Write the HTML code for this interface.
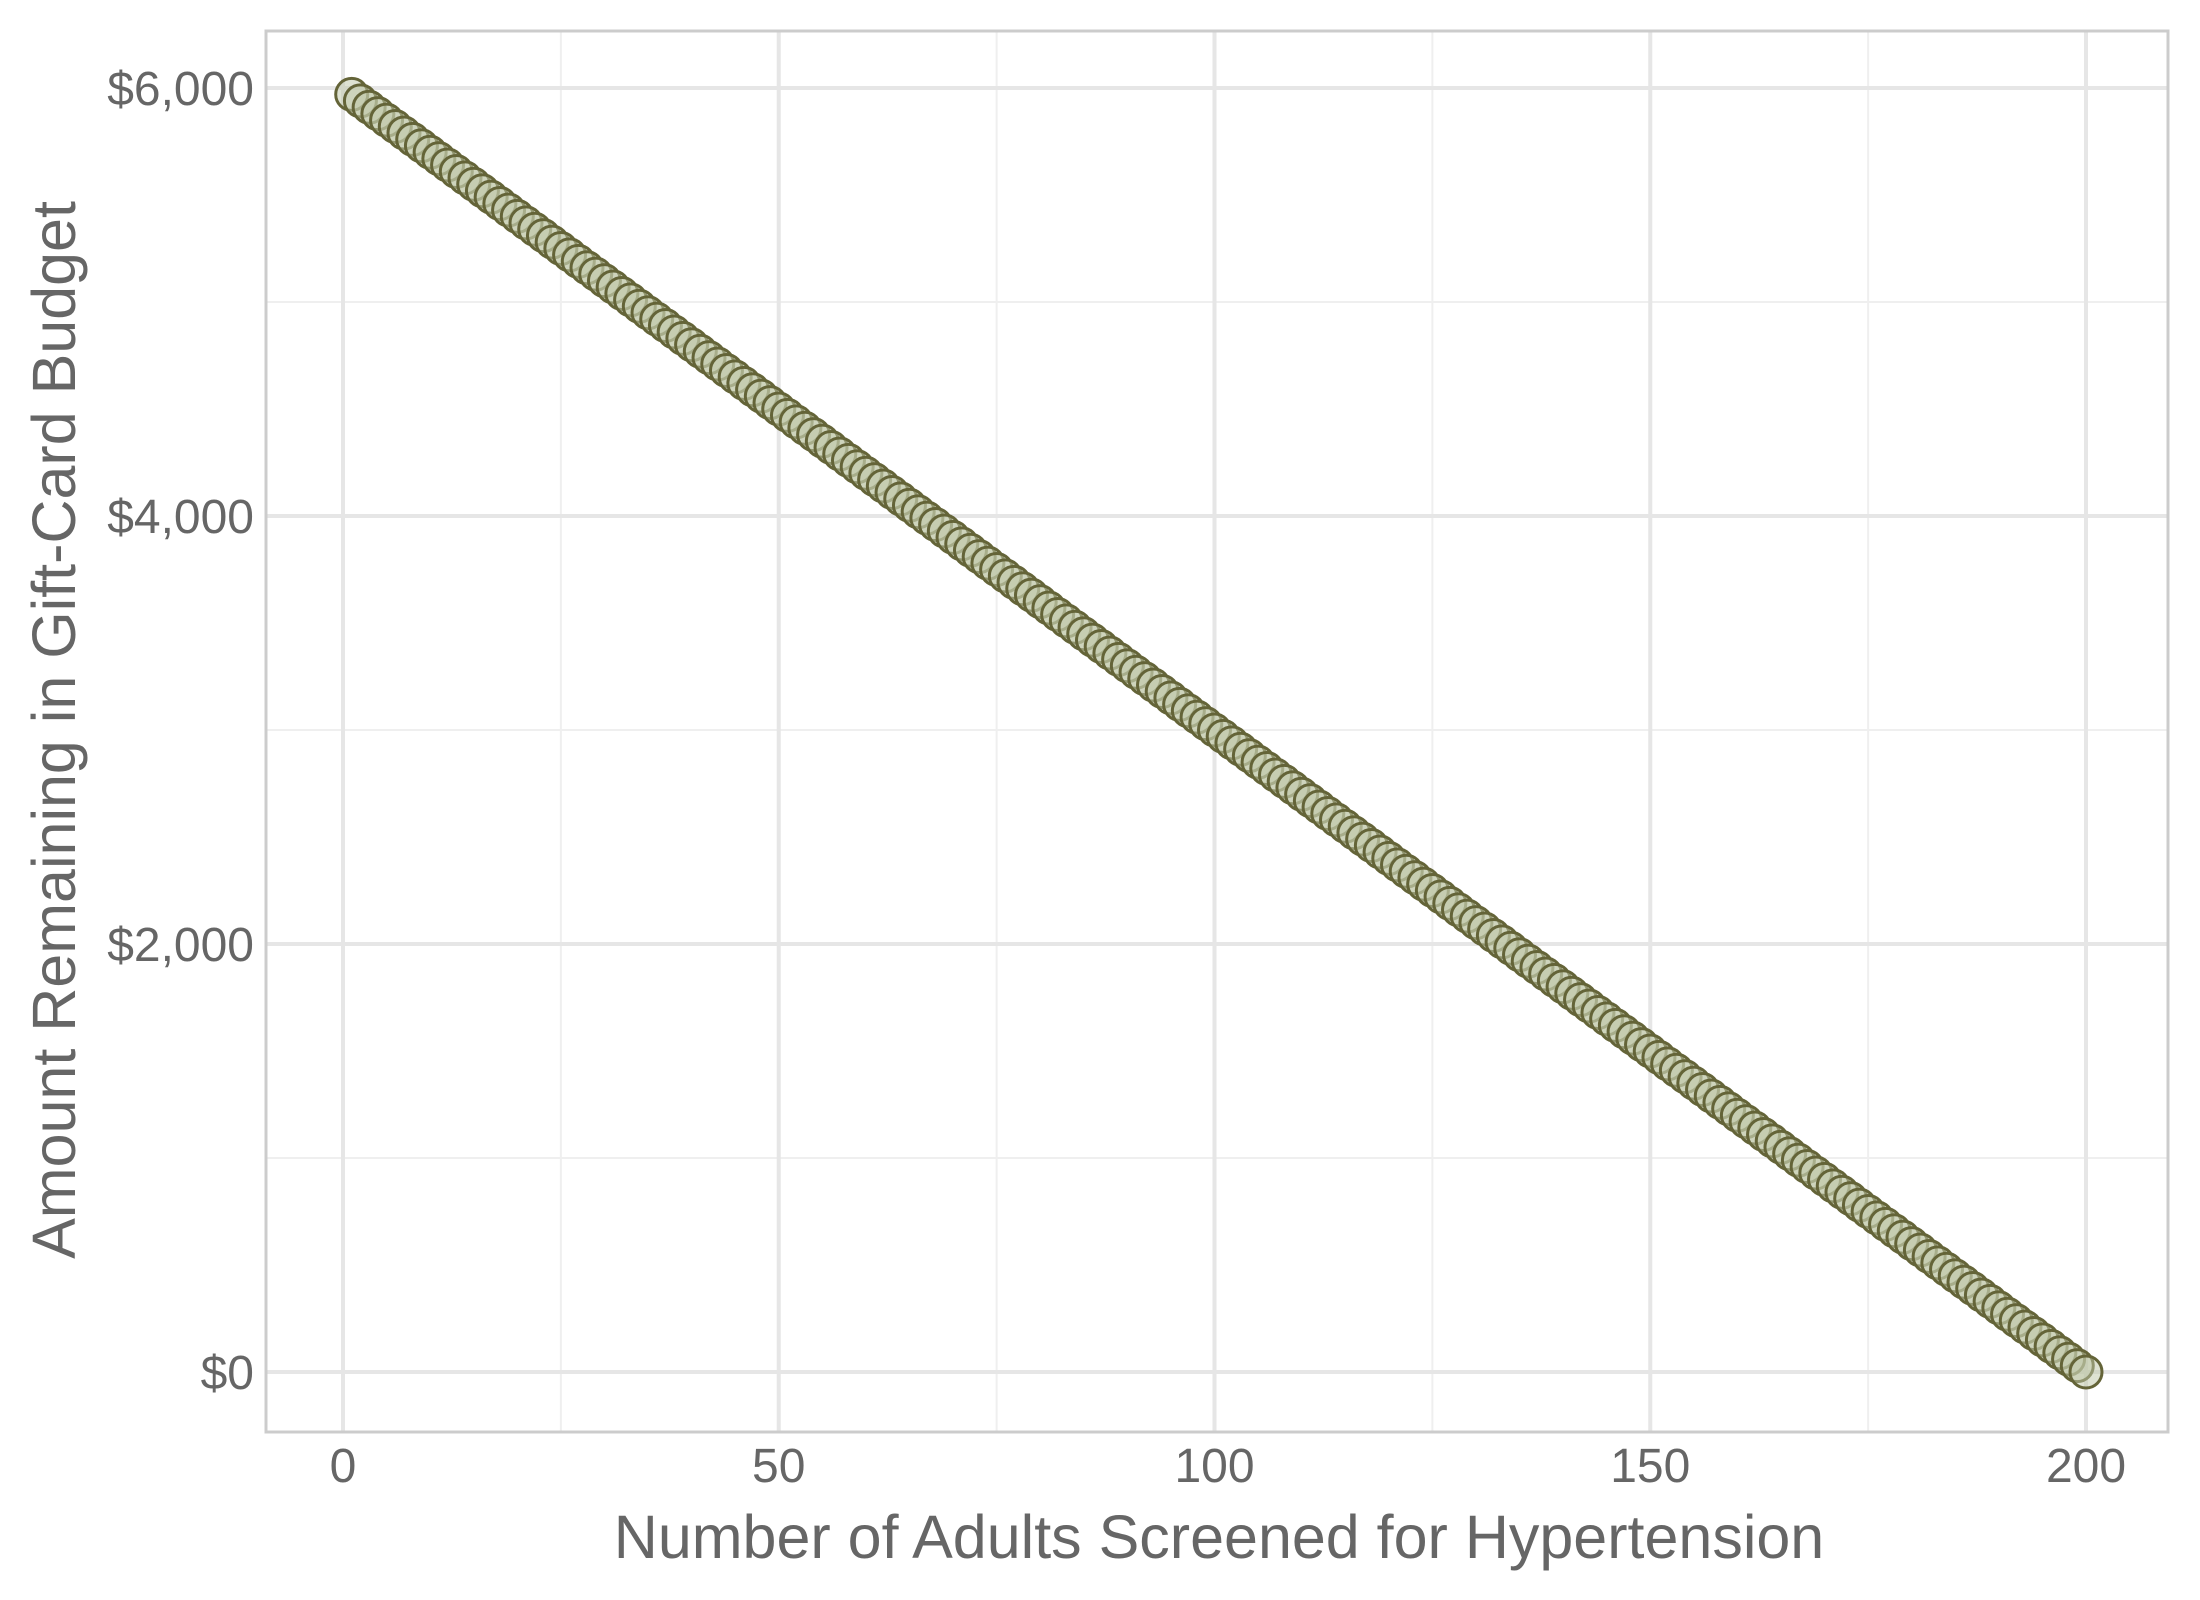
<!DOCTYPE html>
<html><head><meta charset="utf-8"><style>
html,body{margin:0;padding:0;background:#fff;}
svg{display:block;font-family:"Liberation Sans",Arial,sans-serif;}
</style></head><body>
<svg id="chart" width="2200" height="1600" viewBox="0 0 2200 1600">
<g id="grid"></g>
<rect x="266" y="31" width="1902" height="1401" fill="none" stroke="#cccccc" stroke-width="3"/>
<g id="points"></g>
<g id="axes"></g>
<text x="1219" y="1558" text-anchor="middle" font-size="61" fill="#666">Number of Adults Screened for Hypertension</text>
<text transform="translate(75,730) rotate(-90)" text-anchor="middle" font-size="61" fill="#666">Amount Remaining in Gift-Card Budget</text>
</svg>
<script>
const xTicks = [0, 50, 100, 150, 200];
const xMinor = [25, 75, 125, 175];
const yTicks = [0, 2000, 4000, 6000];
const yTickLabels = ["$0", "$2,000", "$4,000", "$6,000"];
const yMinor = [1000, 3000, 5000];
const adults = [1,2,3,4,5,6,7,8,9,10,11,12,13,14,15,16,17,18,19,20,21,22,23,24,25,26,27,28,29,30,31,32,33,34,35,36,37,38,39,40,41,42,43,44,45,46,47,48,49,50,51,52,53,54,55,56,57,58,59,60,61,62,63,64,65,66,67,68,69,70,71,72,73,74,75,76,77,78,79,80,81,82,83,84,85,86,87,88,89,90,91,92,93,94,95,96,97,98,99,100,101,102,103,104,105,106,107,108,109,110,111,112,113,114,115,116,117,118,119,120,121,122,123,124,125,126,127,128,129,130,131,132,133,134,135,136,137,138,139,140,141,142,143,144,145,146,147,148,149,150,151,152,153,154,155,156,157,158,159,160,161,162,163,164,165,166,167,168,169,170,171,172,173,174,175,176,177,178,179,180,181,182,183,184,185,186,187,188,189,190,191,192,193,194,195,196,197,198,199,200];
const remaining = [5970,5940,5910,5880,5850,5820,5790,5760,5730,5700,5670,5640,5610,5580,5550,5520,5490,5460,5430,5400,5370,5340,5310,5280,5250,5220,5190,5160,5130,5100,5070,5040,5010,4980,4950,4920,4890,4860,4830,4800,4770,4740,4710,4680,4650,4620,4590,4560,4530,4500,4470,4440,4410,4380,4350,4320,4290,4260,4230,4200,4170,4140,4110,4080,4050,4020,3990,3960,3930,3900,3870,3840,3810,3780,3750,3720,3690,3660,3630,3600,3570,3540,3510,3480,3450,3420,3390,3360,3330,3300,3270,3240,3210,3180,3150,3120,3090,3060,3030,3000,2970,2940,2910,2880,2850,2820,2790,2760,2730,2700,2670,2640,2610,2580,2550,2520,2490,2460,2430,2400,2370,2340,2310,2280,2250,2220,2190,2160,2130,2100,2070,2040,2010,1980,1950,1920,1890,1860,1830,1800,1770,1740,1710,1680,1650,1620,1590,1560,1530,1500,1470,1440,1410,1380,1350,1320,1290,1260,1230,1200,1170,1140,1110,1080,1050,1020,990,960,930,900,870,840,810,780,750,720,690,660,630,600,570,540,510,480,450,420,390,360,330,300,270,240,210,180,150,120,90,60,30,0];

const NS = "http://www.w3.org/2000/svg";
const X0 = 343, X1 = 2086, Y0 = 1372, Y1 = 88;
function xs(v){ return X0 + (v - 0) / 200 * (X1 - X0); }
function ys(v){ return Y0 - (v - 0) / 6000 * (Y0 - Y1); }
function mk(tag, attrs, parent){ const e = document.createElementNS(NS, tag); for (const k in attrs) e.setAttribute(k, attrs[k]); parent.appendChild(e); return e; }

const grid = document.getElementById('grid');
xMinor.forEach(v => { const l = mk('line', {x1: xs(v), x2: xs(v), y1: 31, y2: 1432, stroke: '#efefef', 'stroke-width': 2}, grid);
  
   });
yMinor.forEach(v => { const l = mk('line', {x1: 266, x2: 2168, y1: ys(v), y2: ys(v), stroke: '#efefef', 'stroke-width': 2}, grid);
  
   });
xTicks.forEach(v => { const l = mk('line', {x1: xs(v), x2: xs(v), y1: 31, y2: 1432, stroke: '#e6e6e6', 'stroke-width': 4}, grid);
  
   });
yTicks.forEach(v => { const l = mk('line', {x1: 266, x2: 2168, y1: ys(v), y2: ys(v), stroke: '#e6e6e6', 'stroke-width': 4}, grid);
  
   });

const axes = document.getElementById('axes');
xTicks.forEach(v => { const t = mk('text', {x: xs(v), y: 1482, 'text-anchor': 'middle', 'font-size': 48, fill: '#666'}, axes);
  t.textContent = String(v);
  
   });
yTicks.forEach((v, i) => { const t = mk('text', {x: 254, y: ys(v) + 17, 'text-anchor': 'end', 'font-size': 48, fill: '#666'}, axes);
  t.textContent = yTickLabels[i];
  
   });

const pts = document.getElementById('points');
adults.forEach((a, i) => { const c = mk('circle', {cx: xs(a), cy: ys(remaining[i]), r: 16, fill: 'rgba(190,198,165,0.5)', stroke: '#646438', 'stroke-width': 3}, pts);
  
   });
</script>
</body></html>
